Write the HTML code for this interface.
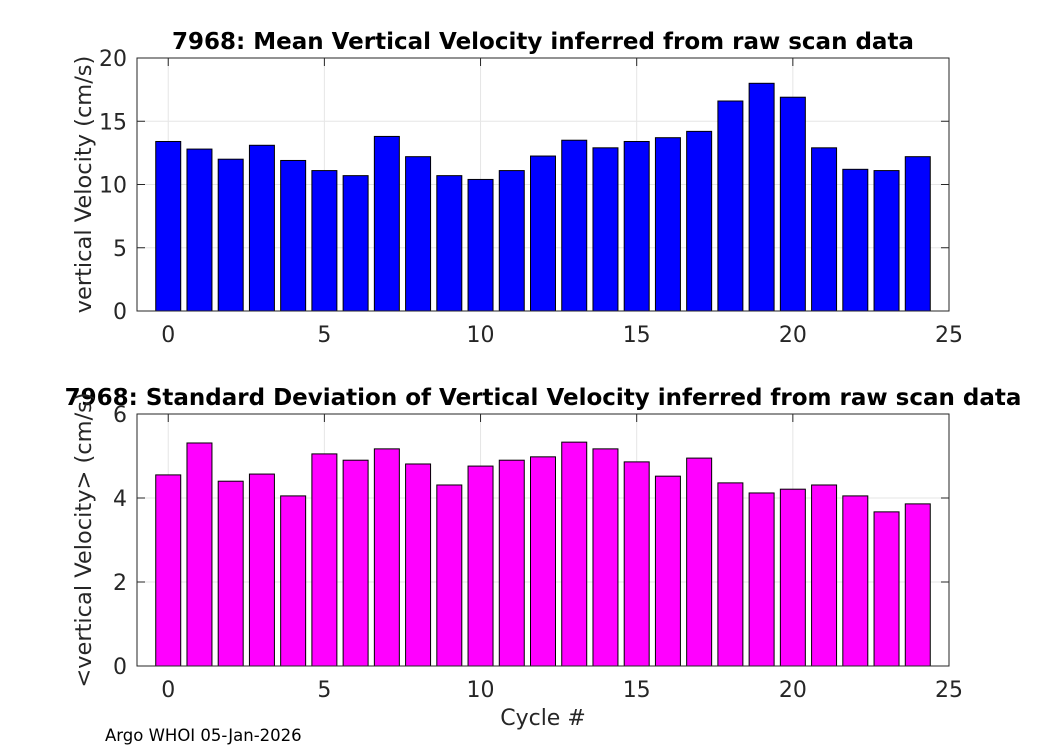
<!DOCTYPE html>
<html><head><meta charset="utf-8"><style>
body{margin:0;background:#fff;}
svg text{font-family:"DejaVu Sans","Liberation Sans",sans-serif;}
</style></head><body>
<svg id="chart" width="1050" height="750" xmlns="http://www.w3.org/2000/svg"></svg>
<script>
const cycles = [0,1,2,3,4,5,6,7,8,9,10,11,12,13,14,15,16,17,18,19,20,21,22,23,24];
const meanVel = [13.4,12.8,12.0,13.1,11.9,11.1,10.7,13.8,12.2,10.7,10.4,11.1,12.25,13.5,12.9,13.4,13.7,14.2,16.6,18.0,16.9,12.9,11.2,11.1,12.2];
const stdVel = [4.55,5.31,4.4,4.57,4.05,5.05,4.9,5.17,4.81,4.31,4.76,4.9,4.98,5.33,5.17,4.86,4.52,4.95,4.36,4.12,4.21,4.31,4.05,3.67,3.86];
const xTicks = [0,5,10,15,20,25];
const yTicksTop = [0,5,10,15,20];
const yTicksBot = [0,2,4,6];

const svg = document.getElementById('chart');
const NS = 'http://www.w3.org/2000/svg';
function mk(tag, attrs, parent){const e=document.createElementNS(NS,tag);for(const k in attrs)e.setAttribute(k,attrs[k]);(parent||svg).appendChild(e);return e;}

function panel(opt){
  const {left,right,top,bottom,ymax,yTicks,vals,color,title,ylabel,name}=opt;
  const g=mk('g',{});
  
  
  const xS=v=>left+(v+1)/26*(right-left);
  const yS=v=>bottom-v/ymax*(bottom-top);
  mk('rect',{x:left,y:top,width:right-left,height:bottom-top,fill:'#fff'},g);
  xTicks.forEach(t=>{
    const l=mk('line',{x1:xS(t),x2:xS(t),y1:top,y2:bottom,stroke:'#e6e6e6','stroke-width':1},g);
    
    
    const tx=mk('text',{x:xS(t),y:bottom+31,'font-size':22,'text-anchor':'middle',fill:'#262626'},g);
    tx.textContent=t;
    
    
    mk('line',{x1:xS(t),x2:xS(t),y1:bottom,y2:bottom-8,stroke:'#262626'},g);
    mk('line',{x1:xS(t),x2:xS(t),y1:top,y2:top+8,stroke:'#262626'},g);
  });
  yTicks.forEach(t=>{
    const l=mk('line',{x1:left,x2:right,y1:yS(t),y2:yS(t),stroke:'#e6e6e6','stroke-width':1},g);
    
    
    const tx=mk('text',{x:left-10,y:yS(t)+8,'font-size':22,'text-anchor':'end',fill:'#262626'},g);
    tx.textContent=t;
    
    
    mk('line',{x1:left,x2:left+8,y1:yS(t),y2:yS(t),stroke:'#262626'},g);
    mk('line',{x1:right,x2:right-8,y1:yS(t),y2:yS(t),stroke:'#262626'},g);
  });
  const bw=0.8*(right-left)/26;
  cycles.forEach((c,i)=>{
    const r=mk('rect',{x:xS(c)-bw/2,y:yS(vals[i]),width:bw,height:bottom-yS(vals[i]),fill:color,stroke:'#000','stroke-width':1},g);
    
    
  });
  mk('rect',{x:left,y:top,width:right-left,height:bottom-top,fill:'none',stroke:'#262626','stroke-width':1},g);
  const t=mk('text',{x:(left+right)/2,y:top-9,'font-size':23,'font-weight':'bold','text-anchor':'middle',fill:'#000'},g);
  t.textContent=title;
  
  
  const yl=mk('text',{x:0,y:0,'font-size':22.5,'text-anchor':'middle',fill:'#262626',transform:`translate(${left-46},${(top+bottom)/2}) rotate(-90)`},g);
  yl.textContent=ylabel;
  
  
}
panel({left:137,right:949,top:58,bottom:311,ymax:20,yTicks:yTicksTop,vals:meanVel,color:'#0000ff',title:'7968: Mean Vertical Velocity inferred from raw scan data',ylabel:'vertical Velocity (cm/s)',name:'mean-velocity-panel'});
panel({left:137,right:949,top:414,bottom:666,ymax:6,yTicks:yTicksBot,vals:stdVel,color:'#ff00ff',title:'7968: Standard Deviation of Vertical Velocity inferred from raw scan data',ylabel:'<vertical Velocity> (cm/s)',name:'std-velocity-panel'});
const xl=mk('text',{x:543,y:725,'font-size':22,'text-anchor':'middle',fill:'#262626'});
xl.textContent='Cycle #';


const ft=mk('text',{x:105,y:741,'font-size':16.5,fill:'#000'});
ft.textContent='Argo WHOI 05-Jan-2026';


</script>
</body></html>
